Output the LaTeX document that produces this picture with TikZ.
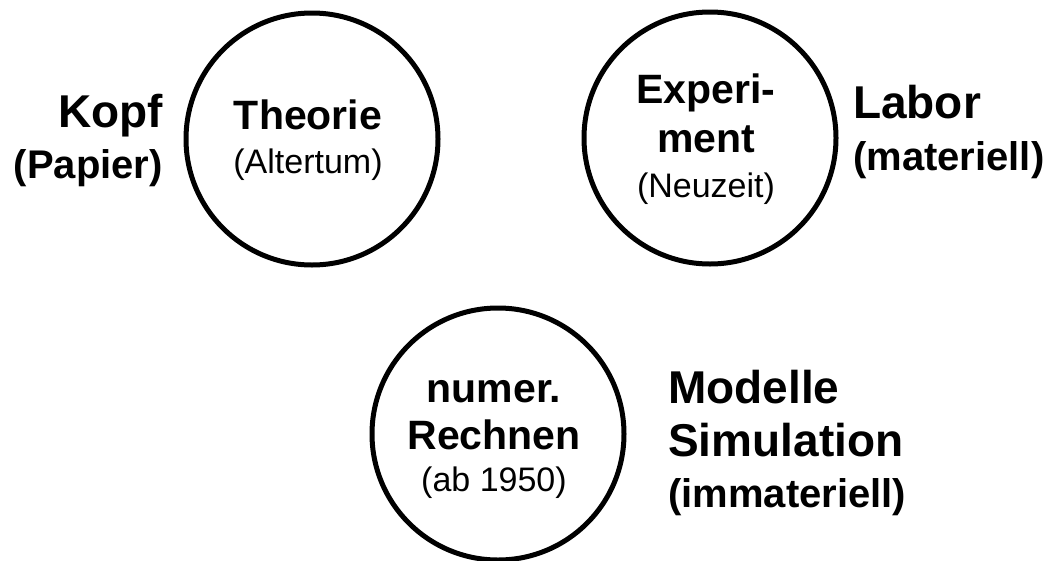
\documentclass[tikz,border=0pt]{standalone}
\usepackage{fontspec}
\setmainfont{Liberation Sans}
\begin{document}
\begin{tikzpicture}[x=1pt,y=-1pt,
  ring/.style={circle,draw,line width=5pt,minimum size=252pt,inner sep=0pt},
  intitle/.style={inner sep=0pt,anchor=base,font=\fontsize{41pt}{45pt}\selectfont\bfseries},
  insub/.style={inner sep=0pt,anchor=base,font=\fontsize{34pt}{38pt}\selectfont},
  outtitle/.style={inner sep=0pt,font=\fontsize{46pt}{50pt}\selectfont\bfseries},
  outsub/.style={inner sep=0pt,font=\fontsize{40pt}{44pt}\selectfont\bfseries}]
\useasboundingbox (0,0) rectangle (1061,560);
% circles
\node[ring] (theo) at (312,139) {};
\node[ring] (expe) at (710,138) {};
\node[ring] (rech) at (498,434) {};
% circle texts
\node[intitle] (theoA) at (308,129) {Theorie};
\node[insub]   (theoB) at (308,173) {(Altertum)};
\node[intitle] (expeA) at (706,103) {Experi-};
\node[intitle] (expeB) at (706,152) {ment};
\node[insub]   (expeC) at (706,197) {(Neuzeit)};
\node[intitle] (rechA) at (494,402) {numer.};
\node[intitle] (rechB) at (494,449) {Rechnen};
\node[insub]   (rechC) at (494,491) {(ab 1950)};
% outer labels
\node[outtitle,anchor=base east] (kopf) at (163,127) {Kopf};
\node[outsub,anchor=base east]   (papier) at (163,178) {(Papier)};
\node[outtitle,anchor=base west] (labor) at (853,118) {Labor};
\node[outsub,anchor=base west]   (mat) at (853,170) {(materiell)};
\node[outtitle,anchor=base west] (mod) at (668,403) {Modelle};
\node[outtitle,anchor=base west] (sim) at (668,456) {Simulation};
\node[outsub,anchor=base west]   (imm) at (668,507) {(immateriell)};
\end{tikzpicture}
\end{document}
